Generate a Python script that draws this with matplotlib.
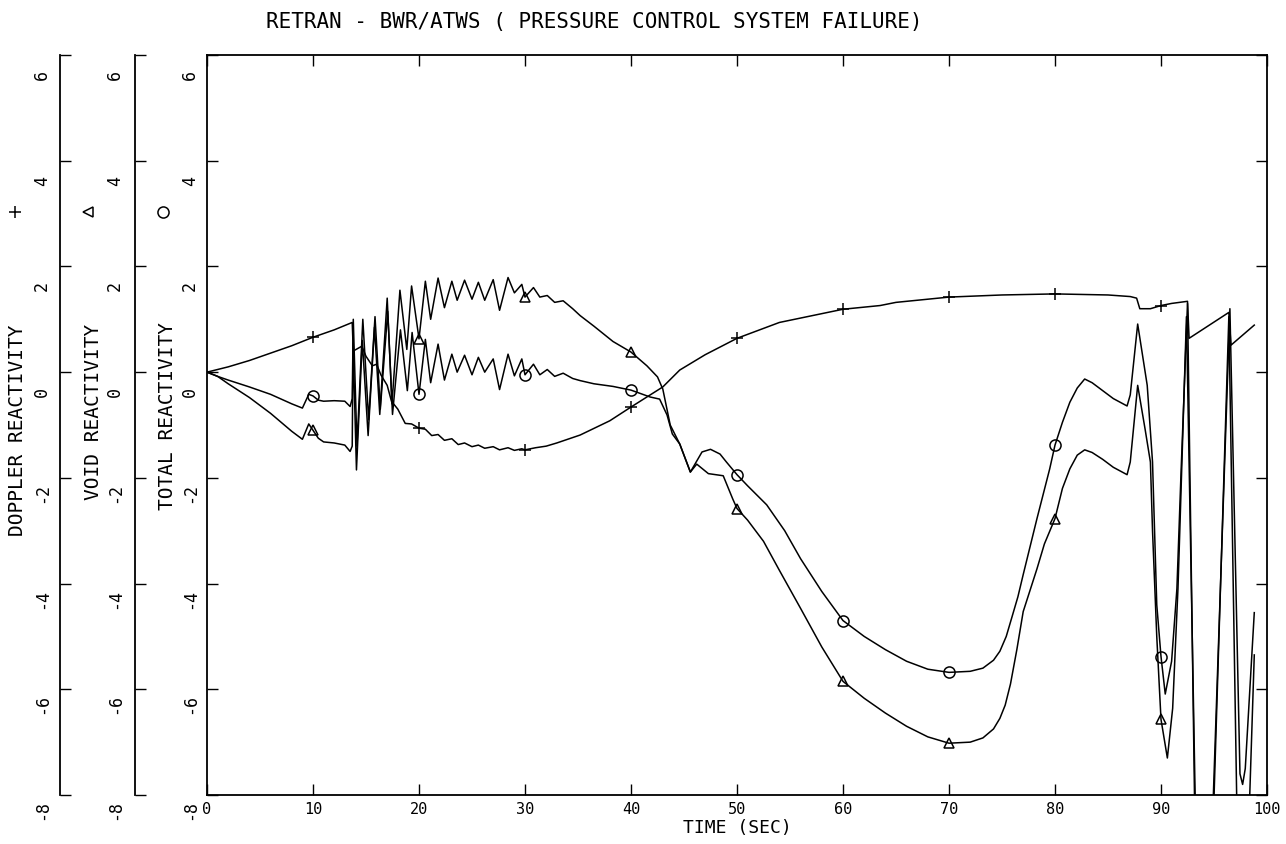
import matplotlib
matplotlib.use("Agg")
import matplotlib.pyplot as plt
from matplotlib.lines import Line2D
from matplotlib.transforms import blended_transform_factory, ScaledTranslation

# ---------------- data (time in s, reactivity in $) ----------------
t_dop = [0, 2, 4, 6, 8, 10, 12, 13.7, 13.8, 14.6, 15.0, 15.6, 16.0, 16.4, 17.0,
         17.4, 18.0, 18.7, 19.3, 20, 20.6, 21.2, 21.8, 22.4, 23.1, 23.7, 24.3,
         25.0, 25.6, 26.2, 27.0, 27.6, 28.4, 29.0, 29.7, 30, 31, 32, 33, 35.2,
         38, 40, 43, 44.6, 47, 50, 54, 60, 63.5, 65, 70, 75, 80, 85, 87.1, 87.7,
         88.0, 89.0, 90, 91, 92.5, 92.65, 96.4, 96.6, 98.8]
doppler = [0, 0.1, 0.22, 0.36, 0.5, 0.66, 0.8, 0.94, 0.40, 0.49, 0.3, 0.12,
           0.15, -0.05, -0.25, -0.55, -0.70, -0.97, -0.98, -1.06, -1.08, -1.20,
           -1.18, -1.29, -1.26, -1.37, -1.34, -1.41, -1.38, -1.44, -1.41, -1.47,
           -1.43, -1.48, -1.45, -1.47, -1.43, -1.40, -1.34, -1.19, -0.92, -0.66,
           -0.28, 0.04, 0.33, 0.64, 0.94, 1.19, 1.26, 1.32, 1.42, 1.46, 1.48,
           1.46, 1.43, 1.40, 1.2, 1.2, 1.26, 1.30, 1.34, 0.64, 1.13, 0.51, 0.89]

t_void = [0, 1, 2, 4, 6, 8, 9.0, 9.6, 10, 10.5, 11, 12, 13, 13.5, 13.7, 13.78,
          14.1, 14.65, 15.2, 15.8, 16.3, 17.0, 17.45, 18.2, 18.85, 19.3, 20,
          20.6, 21.1, 21.8, 22.4, 23.1, 23.6, 24.3, 25.0, 25.6, 26.2, 27.0,
          27.6, 28.4, 29.0, 29.7, 30, 30.8, 31.4, 32.1, 32.8, 33.6, 34.5, 35.2,
          36.5, 38.3, 40, 41.5, 42.5, 43, 43.7, 44.6, 45.6, 46.2, 47.3, 48.7,
          49.6, 50, 51, 52.5, 54, 56, 58, 60, 62, 64, 66, 68, 70, 72, 73.2,
          74.2, 74.8, 75.3, 75.8, 76.4, 77, 78.3, 79, 80, 80.7, 81.4, 82.1,
          82.8, 83.5, 84.5, 85.5, 86.8, 87.1, 87.8, 88.5, 89, 89.2, 89.6, 90,
          90.6, 91.1, 91.6, 91.8, 92.4, 93.4, 94.7, 96.4, 97.3, 98.05, 98.8]
void = [0, -0.08, -0.22, -0.48, -0.78, -1.12, -1.27, -0.98, -1.1, -1.25, -1.32,
        -1.34, -1.38, -1.5, -1.4, 0.55, -1.85, 0.6, -1.2, 0.85, -0.8, 1.4, -0.6,
        1.55, 0.43, 1.63, 0.63, 1.72, 1.0, 1.78, 1.22, 1.72, 1.36, 1.74, 1.38,
        1.70, 1.36, 1.75, 1.17, 1.79, 1.5, 1.66, 1.42, 1.6, 1.42, 1.45, 1.32,
        1.35, 1.2, 1.07, 0.87, 0.58, 0.38, 0.12, -0.09, -0.32, -1.0, -1.36,
        -1.89, -1.74, -1.92, -1.96, -2.4, -2.58, -2.8, -3.2, -3.75, -4.47,
        -5.2, -5.85, -6.17, -6.45, -6.7, -6.9, -7.02, -7.0, -6.92, -6.75,
        -6.55, -6.3, -5.9, -5.25, -4.53, -3.72, -3.25, -2.77, -2.2, -1.83,
        -1.57, -1.47, -1.52, -1.65, -1.8, -1.94, -1.7, -0.25, -1.08, -1.7,
        -3.0, -5.0, -6.57, -7.3, -6.36, -4.1, -2.83, 1.05, -10, -10, 1.05,
        -10, -10, -5.35]

t_total = [0, 1, 2, 4, 6, 8, 9.0, 9.6, 10, 10.5, 11, 12, 13, 13.5, 13.7, 13.8,
           14.15, 14.7, 15.25, 15.85, 16.35, 17.05, 17.5, 18.25, 18.9, 19.35,
           20, 20.6, 21.1, 21.8, 22.4, 23.1, 23.6, 24.3, 25.0, 25.6, 26.2, 27.0,
           27.6, 28.4, 29.0, 29.7, 30, 30.8, 31.4, 32.1, 32.8, 33.6, 34.5, 35.2,
           36.5, 38.3, 40, 41.8, 42.7, 43.4, 43.9, 44.6, 45.6, 46.7, 47.5, 48.4,
           49, 50, 51, 52.8, 54.5, 56, 58, 60, 62, 64, 66, 68, 70, 72, 73.2,
           74.2, 74.8, 75.4, 75.9, 76.5, 77, 78.3, 79.5, 80, 80.7, 81.4, 82.1,
           82.8, 83.5, 84.5, 85.5, 86.8, 87.1, 87.8, 88.7, 89.2, 89.6, 90,
           90.4, 91, 91.5, 91.9, 92.5, 93.3, 94.6, 96.5, 97.45, 97.7, 97.95, 98.8]
total = [0, -0.08, -0.15, -0.28, -0.42, -0.6, -0.68, -0.42, -0.45, -0.53, -0.55,
         -0.54, -0.55, -0.65, -0.5, 1.0, -1.4, 1.0, -0.9, 1.05, -0.7, 1.15, -0.8,
         0.8, -0.35, 0.75, -0.42, 0.62, -0.2, 0.53, -0.15, 0.34, 0.0, 0.32,
         -0.05, 0.28, 0.0, 0.25, -0.33, 0.34, -0.07, 0.25, -0.05, 0.15, -0.05,
         0.05, -0.08, -0.02, -0.12, -0.16, -0.22, -0.27, -0.34, -0.47, -0.51,
         -0.81, -1.17, -1.36, -1.89, -1.51, -1.46, -1.55, -1.7, -1.94, -2.15,
         -2.51, -3.0, -3.53, -4.15, -4.7, -5.0, -5.25, -5.47, -5.62, -5.68,
         -5.66, -5.6, -5.45, -5.28, -5.0, -4.66, -4.25, -3.83, -2.77, -1.83,
         -1.38, -0.95, -0.57, -0.3, -0.13, -0.2, -0.35, -0.5, -0.64, -0.43,
         0.91, -0.25, -1.7, -4.4, -5.38, -6.09, -5.47, -4.1, -1.85, 1.3, -10,
         -10, 1.2, -7.6, -7.8, -7.5, -4.55]

mark_times = [10, 20, 30, 40, 50, 60, 70, 80, 90]
x_ticks = [0, 10, 20, 30, 40, 50, 60, 70, 80, 90, 100]
y_ticks = [-8, -6, -4, -2, 0, 2, 4, 6]

title = "RETRAN - BWR/ATWS ( PRESSURE CONTROL SYSTEM FAILURE)"
xlabel = "TIME (SEC)"
ylabels = ["DOPPLER REACTIVITY", "VOID REACTIVITY", "TOTAL REACTIVITY"]

# ---------------- layout ----------------
W, H = 1286, 844
FONT = "DejaVu Sans Mono"
plt.rcParams["font.family"] = FONT


def fx(px):
    return px / W


def fy(py):
    return 1 - py / H


fig = plt.figure(figsize=(W / 100, H / 100), dpi=100)
fig.patch.set_facecolor("white")

ax = fig.add_axes([fx(207), fy(795), fx(1267) - fx(207), fy(55) - fy(795)])
ax.set_xlim(0, 100)
ax.set_ylim(-8, 6)
ax.set_xticks(x_ticks)
ax.set_yticks(y_ticks)
ax.tick_params(direction="in", length=8, width=1.0, top=True, right=True,
               labelbottom=False, labelleft=False, color="black")
for s in ax.spines.values():
    s.set_linewidth(1.3)

# extra scales for the Doppler and void curves
for px in (60, 135):
    a = fig.add_axes([fx(px), fy(795), fx(30), fy(55) - fy(795)])
    a.set_ylim(-8, 6)
    a.set_yticks(y_ticks)
    a.set_xticks([])
    a.patch.set_alpha(0)
    for name, s in a.spines.items():
        s.set_visible(name == "left")
    a.spines["left"].set_linewidth(1.3)
    a.tick_params(axis="y", direction="in", length=8, width=1.0,
                  labelleft=False)


def marks(ts):
    return [i for i, t in enumerate(ts) if t in mark_times]


lw = 1.1
ax.plot(t_dop, doppler, color="black", lw=lw, marker="+", ms=9, mew=1.1,
        markevery=marks(t_dop))
ax.plot(t_void, void, color="black", lw=lw, marker="^", ms=7, mew=1.1,
        mfc="none", markevery=marks(t_void))
ax.plot(t_total, total, color="black", lw=lw, marker="o", ms=8, mew=1.1,
        mfc="none", markevery=marks(t_total))

# y tick labels (rotated, reading upward from just below each tick)
for x_lab in (42, 115, 190):
    tr = blended_transform_factory(fig.transFigure, ax.transData) + \
        ScaledTranslation(0, -25 / 100, fig.dpi_scale_trans)
    for v in y_ticks:
        fig.text(fx(x_lab), v, str(v), transform=tr, rotation=90,
                 rotation_mode="anchor", ha="left", va="center",
                 fontsize=12, family=FONT)

# x tick labels
trx = blended_transform_factory(ax.transData, fig.transFigure)
for v in x_ticks:
    fig.text(v, fy(809), str(v), transform=trx, ha="center", va="center",
             fontsize=11, family=FONT)

fig.text(fx(737), fy(828), xlabel, ha="center", va="center", fontsize=13,
         family=FONT)
fig.text(fx(266), fy(22), title, ha="left", va="center", fontsize=15,
         family=FONT)

for (x_lab, y_lab), txt in zip([(18, 430), (93, 412), (167, 416)], ylabels):
    fig.text(fx(x_lab), fy(y_lab), txt, rotation=90, ha="center",
             va="center", fontsize=14, family=FONT)

# curve symbols beside the axis titles
for (x_s, mk, ms) in [(15, "+", 9), (88, "<", 7), (163, "o", 8)]:
    fig.add_artist(Line2D([fx(x_s)], [fy(212)], marker=mk, ms=ms, mew=1.1,
                          mfc="none", color="black",
                          transform=fig.transFigure))

fig.savefig("out.png", dpi=100)
